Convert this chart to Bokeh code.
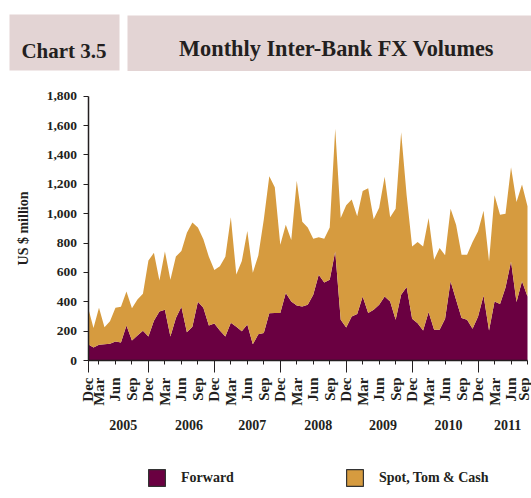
import math
import pandas as pd
from bokeh.plotting import figure
from bokeh.models import (Range1d, FixedTicker, LinearAxis, NumeralTickFormatter,
                          Legend, LegendItem, BoxAnnotation, Label, ColumnDataSource)
from bokeh.embed import file_html
from bokeh.resources import INLINE

FONT = "Liberation Serif"
TXT = "#231f20"
MAROON = "#6a0041"
GOLD = "#d69b3f"
BOXFILL = "#e3d4d4"

# ---- data (US$ million, monthly Jan 2005 - Sep 2011) ----
months = pd.date_range("2005-01-01", "2011-09-01", freq="MS")
forward = [111, 89, 107, 111, 114, 130, 123, 239, 136, 170, 202, 164,
           270, 334, 345, 164, 289, 366, 193, 230, 400, 360, 239, 252,
           204, 163, 257, 230, 200, 246, 110, 178, 188, 322, 323, 323,
           459, 402, 375, 368, 380, 448, 584, 532, 550, 743, 277, 225,
           300, 316, 436, 323, 345, 380, 436, 402, 277, 448, 500, 284,
           254, 204, 330, 209, 209, 284, 539, 414, 289, 277, 216, 300,
           443, 204, 402, 384, 498, 675, 398, 539, 436]
spot = [252, 133, 252, 116, 154, 229, 243, 231, 220, 245, 253, 517,
        463, 211, 398, 386, 419, 379, 677, 710, 505, 466, 467, 365,
        438, 543, 718, 355, 478, 636, 488, 537, 772, 932, 857, 466,
        466, 418, 850, 577, 525, 382, 255, 298, 355, 835, 693, 832,
        796, 666, 719, 850, 617, 660, 815, 573, 757, 1107, 625, 493,
        553, 573, 640, 477, 557, 432, 495, 511, 431, 443, 591, 580,
        577, 471, 723, 609, 502, 641, 682, 659, 614]
series_names = ["Forward", "Spot, Tom & Cash"]
y_ticks = [0, 200, 400, 600, 800, 1000, 1200, 1400, 1600, 1800]
year_labels = ["2005", "2006", "2007", "2008", "2009", "2010", "2011"]
year_pos = [6.4, 18.4, 29.9, 41.9, 53.7, 65.6, 76.4]
chart_no = "Chart 3.5"
chart_title = "Monthly Inter-Bank FX Volumes"
y_label = "US $ million"

x = list(range(len(months)))
quarter_idx = [i for i, m in enumerate(months) if m.month % 3 == 0]
x_ticks = [0] + quarter_idx
x_labels = ["Dec"] + [months[i].strftime("%b") for i in quarter_idx]
dec_ticks = [0] + [i for i, m in enumerate(months) if m.month == 12]
Y_MAX = y_ticks[-1]

src = ColumnDataSource(dict(x=x, forward=forward, spot=spot))

# ---- layout geometry (pixels inside the figure) ----
W, H = 531, 498
X0_PX, X1_PX = 87.5, 527.0      # first / last month
Y0_PX, Y1_PX = 360.0, 95.7      # value 0 / value Y_MAX (from top)
kx = (X1_PX - X0_PX) / (len(x) - 1)
ky = (Y0_PX - Y1_PX) / Y_MAX
x_start = -X0_PX / kx
y_start = -(H - Y0_PX) / ky


def px_x(px):
    return x_start + px / kx


def px_y(py):
    return y_start + (H - py) / ky


p = figure(width=W, height=H, x_range=Range1d(x_start, x_start + W / kx),
           y_range=Range1d(y_start, y_start + H / ky),
           toolbar_location=None, output_backend="svg", title=None, min_border=0,
           x_axis_location=None, y_axis_location=None)
p.grid.visible = False
p.outline_line_color = None
p.background_fill_color = "white"

# header boxes and titles
p.add_layout(BoxAnnotation(left=px_x(9), right=px_x(119), top=px_y(14), bottom=px_y(70),
                           fill_color=BOXFILL, fill_alpha=1, line_color=None))
p.add_layout(BoxAnnotation(left=px_x(127), right=px_x(W), top=px_y(15), bottom=px_y(70.5),
                           fill_color=BOXFILL, fill_alpha=1, line_color=None))
p.add_layout(Label(x=px_x(63.5), y=px_y(50), text=chart_no, text_align="center",
                   text_baseline="alphabetic", text_font=FONT, text_font_style="bold",
                   text_font_size="21px", text_color=TXT))
p.add_layout(Label(x=px_x(336), y=px_y(47.5), text=chart_title, text_align="center",
                   text_baseline="alphabetic", text_font=FONT, text_font_style="bold",
                   text_font_size="22.3px", text_color=TXT))

# stacked areas
p.varea_stack(["forward", "spot"], x="x", color=[MAROON, GOLD], source=src)

common_label = dict(major_label_text_font=FONT, major_label_text_font_style="bold",
                    major_label_text_color=TXT)

# month axis
xa = LinearAxis(fixed_location=0, bounds=(0, len(x) - 1),
                ticker=FixedTicker(ticks=x_ticks, minor_ticks=[]),
                major_label_overrides={t: lab for t, lab in zip(x_ticks, x_labels)},
                major_label_orientation=math.pi / 2, major_tick_out=4, major_tick_in=0,
                major_label_standoff=13, axis_line_color=TXT, axis_line_width=1.5,
                major_tick_line_color=TXT, minor_tick_line_color=None,
                major_label_text_font_size="15px", **common_label)
p.add_layout(xa, "below")

# long ticks at each December
dec_axis = LinearAxis(fixed_location=0, bounds=(0, len(x) - 1),
                      ticker=FixedTicker(ticks=dec_ticks, minor_ticks=[]),
                      major_tick_out=12, major_tick_in=0, axis_line_color=None,
                      major_tick_line_color=TXT, minor_tick_line_color=None,
                      major_label_overrides={t: "" for t in dec_ticks},
                      major_label_text_font_size="0px")
p.add_layout(dec_axis, "below")

# year labels
year_axis = LinearAxis(fixed_location=0, ticker=FixedTicker(ticks=year_pos, minor_ticks=[]),
                       major_label_overrides={t: lab for t, lab in zip(year_pos, year_labels)},
                       major_tick_out=0, major_tick_in=0, major_tick_line_color=None,
                       axis_line_color=None, minor_tick_line_color=None,
                       major_label_standoff=59, major_label_text_font_size="14px",
                       **common_label)
p.add_layout(year_axis, "below")

# value axis
ya = LinearAxis(fixed_location=0, bounds=(0, Y_MAX),
                ticker=FixedTicker(ticks=y_ticks, minor_ticks=[]),
                formatter=NumeralTickFormatter(format="0,0"),
                axis_label=y_label, axis_label_text_font=FONT,
                axis_label_text_font_style="bold", axis_label_text_font_size="14px",
                axis_label_text_color=TXT, axis_label_standoff=13,
                major_tick_out=5, major_tick_in=0, major_label_standoff=6,
                axis_line_color=TXT, axis_line_width=1.5, major_tick_line_color=TXT,
                minor_tick_line_color=None, major_label_text_font_size="13.5px",
                **common_label)
p.add_layout(ya, "left")

# legend swatches (renderers with no visible mark, legend only)
nan = float("nan")
sw_f = p.quad(left=[nan], right=[nan], top=[nan], bottom=[nan], fill_color=MAROON,
              line_color="#333333", line_width=1.2)
sw_s = p.quad(left=[nan], right=[nan], top=[nan], bottom=[nan], fill_color=GOLD,
              line_color="#333333", line_width=1.2)
legend = Legend(items=[LegendItem(label=series_names[0], renderers=[sw_f]),
                       LegendItem(label=series_names[1], renderers=[sw_s])],
                orientation="horizontal", location=(146, H - 488), glyph_width=21,
                glyph_height=21, label_height=21, label_standoff=14, spacing=110,
                padding=0, margin=0, border_line_color=None, background_fill_alpha=0,
                label_text_font=FONT, label_text_font_style="bold",
                label_text_font_size="14px", label_text_color=TXT)
p.add_layout(legend)

open("out.html", "w").write(file_html(p, INLINE))
